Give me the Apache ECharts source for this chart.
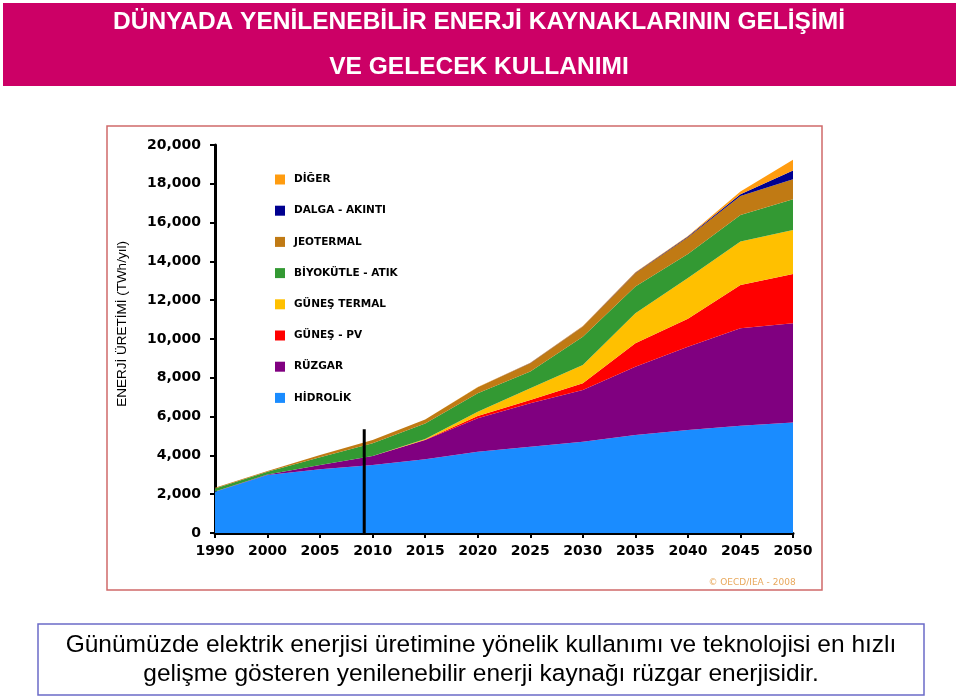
<!DOCTYPE html>
<html>
<head>
<meta charset="utf-8">
<script src="https://cdn.jsdelivr.net/npm/echarts@6/dist/echarts.min.js"></script>
<style>
  html, body { margin: 0; padding: 0; background: #fff; }
  #chart { width: 959px; height: 696px; }
</style>
</head>
<body>
<div id="chart"></div>
<script>
  // yıllar ve kaynak bazında üretim (TWh/yıl)
  var years = ['1990', '2000', '2005', '2010', '2015', '2020', '2025', '2030', '2035', '2040', '2045', '2050'];
  var hidrolik = [2130, 2990, 3280, 3500, 3800, 4190, 4450, 4710, 5050, 5310, 5530, 5690];
  var ruzgar = [5, 30, 220, 470, 990, 1720, 2240, 2660, 3520, 4290, 5020, 5120];
  var gunesPv = [0, 0, 0, 0, 20, 120, 170, 350, 1210, 1450, 2230, 2540];
  var gunesTermal = [0, 0, 0, 5, 30, 220, 600, 940, 1550, 2100, 2240, 2270];
  var biyokutle = [165, 140, 400, 645, 810, 950, 860, 1460, 1370, 1230, 1370, 1580];
  var jeotermal = [30, 40, 120, 170, 200, 310, 430, 510, 690, 860, 980, 1030];
  var dalga = [0, 0, 0, 0, 0, 5, 10, 20, 30, 40, 90, 450];
  var diger = [0, 0, 0, 0, 5, 10, 15, 20, 25, 30, 140, 560];
  var yTicks = [0, 2000, 4000, 6000, 8000, 10000, 12000, 14000, 16000, 18000, 20000];
  // 2008-2009 arası dikey çizgi (bugün), yıl sırası cinsinden
  var nowIndex = 2.84;
  var nowTop = 5350;

  var chart = echarts.init(document.getElementById('chart'));

  function area(name, data, color) {
    return {
      name: name,
      type: 'line',
      stack: 'toplam',
      data: data,
      showSymbol: false,
      symbol: 'none',
      lineStyle: { width: 0 },
      areaStyle: { color: color, opacity: 1 },
      itemStyle: { color: color },
      emphasis: { disabled: true },
      silent: true
    };
  }

  var series = [
    area('HİDROLİK', hidrolik, '#1a8cff'),
    area('RÜZGAR', ruzgar, '#800080'),
    area('GÜNEŞ - PV', gunesPv, '#ff0000'),
    area('GÜNEŞ TERMAL', gunesTermal, '#ffc000'),
    area('BİYOKÜTLE - ATIK', biyokutle, '#339933'),
    area('JEOTERMAL', jeotermal, '#c07a14'),
    area('DALGA - AKINTI', dalga, '#000090'),
    area('DİĞER', diger, '#ff9c10'),
    {
      name: 'bugün',
      type: 'line',
      xAxisIndex: 1,
      data: [[nowIndex, 0], [nowIndex, nowTop]],
      showSymbol: false,
      symbol: 'none',
      lineStyle: { color: '#000', width: 3 },
      silent: true,
      z: 5
    }
  ];

  chart.setOption({
    animation: false,
    backgroundColor: '#fff',
    graphic: [
      { type: 'rect', shape: { x: 3, y: 3, width: 953, height: 83 }, style: { fill: '#cc0066' } },
      { type: 'text', x: 479, y: 22, style: { text: 'DÜNYADA YENİLENEBİLİR ENERJİ KAYNAKLARININ GELİŞİMİ', fill: '#fff', font: 'bold 24.5px "Liberation Sans", Arial', textAlign: 'center', textVerticalAlign: 'middle' } },
      { type: 'text', x: 479, y: 67, style: { text: 'VE GELECEK KULLANIMI', fill: '#fff', font: 'bold 24.5px "Liberation Sans", Arial', textAlign: 'center', textVerticalAlign: 'middle' } },
      { type: 'rect', shape: { x: 107, y: 126, width: 715, height: 464 }, style: { fill: 'none', stroke: '#d06a6a', lineWidth: 1.5 } },
      { type: 'text', x: 752, y: 583, style: { text: '© OECD/IEA - 2008', fill: '#e8a85c', font: '9px "DejaVu Sans", Verdana', textAlign: 'center', textVerticalAlign: 'middle' } },
      { type: 'text', x: 122, y: 324, rotation: Math.PI / 2, style: { text: 'ENERJİ ÜRETİMİ (TWh/yıl)', fill: '#000', font: '13.5px "Liberation Sans", Arial', textAlign: 'center', textVerticalAlign: 'middle' } },
      { type: 'rect', shape: { x: 38, y: 624, width: 886, height: 71 }, style: { fill: 'none', stroke: '#6b6bc8', lineWidth: 1.5 } },
      { type: 'text', x: 481, y: 645, style: { text: 'Günümüzde elektrik enerjisi üretimine yönelik kullanımı ve teknolojisi en hızlı', fill: '#000', font: '24.5px "Liberation Sans", Arial', textAlign: 'center', textVerticalAlign: 'middle' } },
      { type: 'text', x: 481, y: 674, style: { text: 'gelişme gösteren yenilenebilir enerji kaynağı rüzgar enerjisidir.', fill: '#000', font: '24.5px "Liberation Sans", Arial', textAlign: 'center', textVerticalAlign: 'middle' } }
    ],
    legend: {
      orient: 'vertical',
      left: 270,
      top: 169,
      itemWidth: 10,
      itemHeight: 10,
      itemGap: 20.2,
      icon: 'rect',
      selectedMode: false,
      data: ['DİĞER', 'DALGA - AKINTI', 'JEOTERMAL', 'BİYOKÜTLE - ATIK', 'GÜNEŞ TERMAL', 'GÜNEŞ - PV', 'RÜZGAR', 'HİDROLİK'],
      textStyle: { color: '#000', fontSize: 10.5, fontWeight: 'bold', fontFamily: '"DejaVu Sans", Verdana', padding: [0, 0, 0, 4], lineHeight: 10 }
    },
    grid: { left: 215, right: 166, top: 145, bottom: 163 },
    xAxis: [{
      type: 'category',
      boundaryGap: false,
      data: years,
      axisLine: { lineStyle: { color: '#000', width: 3 } },
      axisTick: { show: true, length: 5, lineStyle: { color: '#000', width: 2 }, alignWithLabel: true },
      axisLabel: { color: '#000', fontSize: 14, fontWeight: 'bold', fontFamily: '"DejaVu Sans", Verdana', margin: 11 },
      splitLine: { show: false }
    }, {
      type: 'value',
      show: false,
      min: 0,
      max: years.length - 1
    }],
    yAxis: {
      type: 'value',
      min: yTicks[0],
      max: yTicks[yTicks.length - 1],
      interval: 2000,
      axisLine: { show: true, lineStyle: { color: '#000', width: 3 } },
      axisTick: { show: true, length: 5, lineStyle: { color: '#000', width: 2 } },
      axisLabel: {
        color: '#000', fontSize: 14, fontWeight: 'bold', fontFamily: '"DejaVu Sans", Verdana', margin: 14,
        formatter: function (v) { return v.toLocaleString('en-US'); }
      },
      splitLine: { show: false }
    },
    series: series
  });
</script>
</body>
</html>
